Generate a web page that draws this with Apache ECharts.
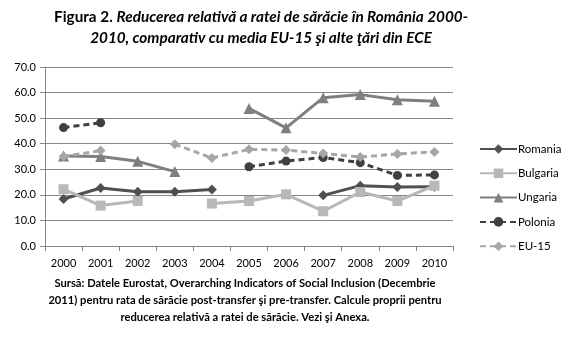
<!DOCTYPE html>
<html>
<head>
<meta charset="utf-8">
<script src="https://cdn.jsdelivr.net/npm/echarts@6/dist/echarts.min.js"></script>
<style>
  html, body { margin: 0; padding: 0; background: #fff; }
  #chart { width: 575px; height: 341px; }
</style>
</head>
<body>
<div id="chart"></div>
<script>
// Years on the x axis
var years = ['2000','2001','2002','2003','2004','2005','2006','2007','2008','2009','2010'];

// Relative reduction of the poverty rate (%), null = no data
var romania  = [18.4, 22.7, 21.2, 21.2, 22.1, null, null, 19.8, 23.6, 23.1, 23.2];
var bulgaria = [22.2, 15.8, 17.6, null, 16.6, 17.6, 20.2, 13.6, 21.1, 17.6, 23.6];
var ungaria  = [35.2, 35.0, 33.1, 29.1, null, 53.8, 46.2, 58.0, 59.2, 57.2, 56.6];
var polonia  = [46.3, 48.2, null, null, null, 31.0, 33.2, 34.6, 32.6, 27.6, 27.8];
var eu15     = [35.0, 37.3, null, 39.8, 34.4, 37.8, 37.5, 36.2, 34.8, 36.0, 36.8];

var FONT = 'Lato';
var TITLE_SIZE = 15.3;

function lineSeries(name, data, color, symbol, size, dashed) {
  return {
    name: name,
    type: 'line',
    data: data,
    connectNulls: false,
    symbol: symbol,
    symbolSize: size,
    itemStyle: { color: color },
    lineStyle: { color: color, width: 3, type: dashed ? [6, 4] : 'solid' },
    emphasis: { disabled: true },
    animation: false
  };
}

var titleRich = {
  n: { fontFamily: FONT, fontWeight: 'bold', fontSize: TITLE_SIZE, fill: '#000' },
  i: { fontFamily: FONT, fontWeight: 'bold', fontStyle: 'italic', fontSize: TITLE_SIZE, fill: '#000' }
};

var chart = echarts.init(document.getElementById('chart'));
chart.setOption({
  animation: false,
  textStyle: { fontFamily: FONT },
  graphic: [{
    type: 'text', silent: true,
    style: {
      x: 261, y: 17, align: 'center', verticalAlign: 'middle',
      text: '{n|Figura 2. }{i|Reducerea relativă a ratei de sărăcie în România 2000-}',
      rich: titleRich
    }
  }, {
    type: 'text', silent: true,
    style: {
      x: 261, y: 38, align: 'center', verticalAlign: 'middle',
      text: '{i|2010, comparativ cu media EU-15 şi alte ţări din ECE}',
      rich: titleRich
    }
  }, {
    type: 'text', silent: true,
    style: {
      x: 245, y: 283, align: 'center', verticalAlign: 'middle',
      text: 'Sursă: Datele Eurostat, Overarching Indicators of Social Inclusion (Decembrie',
      font: 'bold 11.2px ' + FONT, fill: '#000'
    }
  }, {
    type: 'text', silent: true,
    style: {
      x: 245, y: 300, align: 'center', verticalAlign: 'middle',
      text: '2011) pentru rata de sărăcie post-transfer şi pre-transfer. Calcule proprii pentru',
      font: 'bold 11.2px ' + FONT, fill: '#000'
    }
  }, {
    type: 'text', silent: true,
    style: {
      x: 245, y: 317, align: 'center', verticalAlign: 'middle',
      text: 'reducerea relativă a ratei de sărăcie. Vezi şi Anexa.',
      font: 'bold 11.2px ' + FONT, fill: '#000'
    }
  }],
  legend: {
    orient: 'vertical',
    left: 474, top: 138,
    itemWidth: 37, itemHeight: 12,
    itemGap: 12.3,
    textStyle: { fontFamily: FONT, fontSize: 11.5, color: '#000', padding: [0, 0, 0, -4] },
    data: ['Romania', 'Bulgaria', 'Ungaria', 'Polonia', 'EU-15']
  },
  grid: { left: 45, right: 122, top: 67, bottom: 95, containLabel: false },
  xAxis: {
    type: 'category',
    data: years,
    boundaryGap: true,
    axisLine: { lineStyle: { color: '#868686', width: 1 } },
    axisTick: { show: true, alignWithLabel: false, length: 5, lineStyle: { color: '#868686' } },
    axisLabel: { color: '#000', fontFamily: FONT, fontSize: 11, margin: 12, interval: 0 }
  },
  yAxis: {
    type: 'value',
    min: 0, max: 70, interval: 10,
    axisLine: { show: true, lineStyle: { color: '#868686', width: 1 } },
    axisTick: { show: true, length: 5, lineStyle: { color: '#868686' } },
    axisLabel: { color: '#000', fontFamily: FONT, fontSize: 11, margin: 9,
                 formatter: function (v) { return v.toFixed(1); } },
    splitLine: { lineStyle: { color: '#868686', width: 1 } }
  },
  series: [
    lineSeries('Romania', romania, '#505050', 'diamond', 10, false),
    lineSeries('Bulgaria', bulgaria, '#b8b8b8', 'rect', 10, false),
    lineSeries('Ungaria', ungaria, '#7f7f7f', 'triangle', 11, false),
    lineSeries('Polonia', polonia, '#404040', 'circle', 9, true),
    lineSeries('EU-15', eu15, '#a6a6a6', 'diamond', 10, true)
  ]
});
</script>
</body>
</html>
